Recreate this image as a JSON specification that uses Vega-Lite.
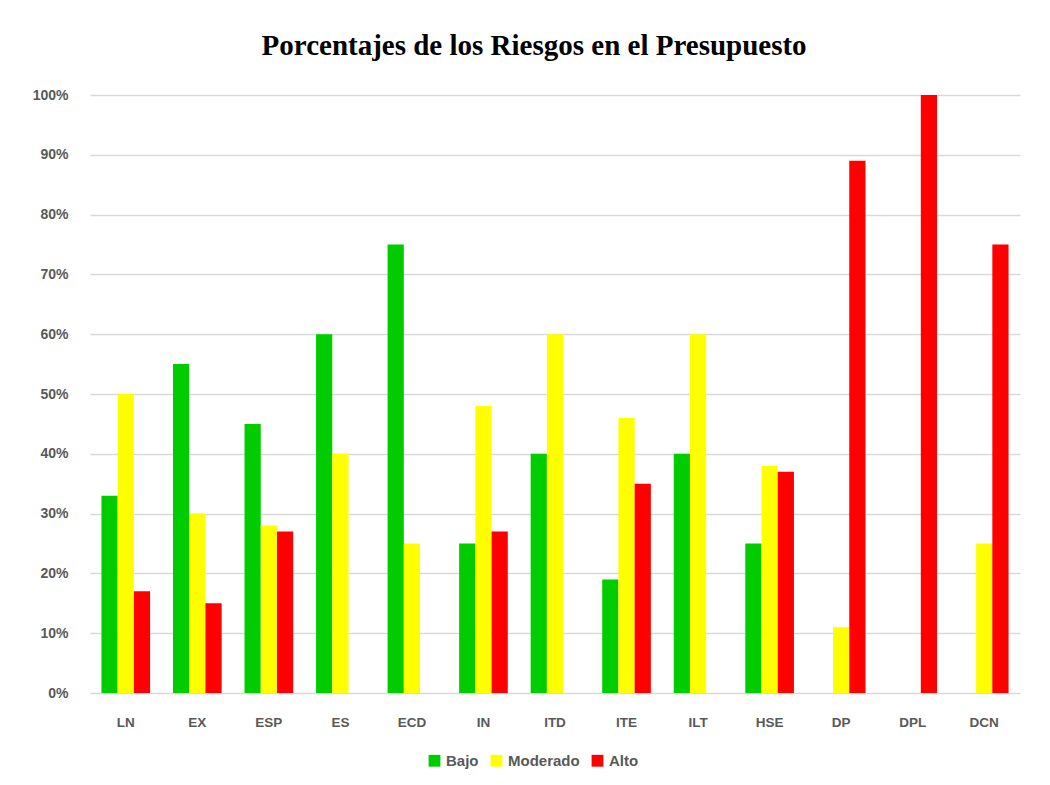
{
  "$schema": "https://vega.github.io/schema/vega-lite/v6.json",
  "autosize": {"type": "none"},
  "width": 930,
  "height": 598,
  "padding": {"left": 90, "top": 95, "right": 30, "bottom": 92},
  "background": "white",
  "title": {
    "text": "Porcentajes de los Riesgos en el Presupuesto",
    "font": "Liberation Serif",
    "fontSize": 29,
    "fontWeight": "bold",
    "color": "#000000",
    "anchor": "middle",
    "frame": "bounds",
    "offset": 27,
    "dx": 8
  },
  "data": {
    "values": [
      {"cat": "LN", "serie": "Bajo", "v": 0.33},
      {"cat": "LN", "serie": "Moderado", "v": 0.50},
      {"cat": "LN", "serie": "Alto", "v": 0.17},
      {"cat": "EX", "serie": "Bajo", "v": 0.55},
      {"cat": "EX", "serie": "Moderado", "v": 0.30},
      {"cat": "EX", "serie": "Alto", "v": 0.15},
      {"cat": "ESP", "serie": "Bajo", "v": 0.45},
      {"cat": "ESP", "serie": "Moderado", "v": 0.28},
      {"cat": "ESP", "serie": "Alto", "v": 0.27},
      {"cat": "ES", "serie": "Bajo", "v": 0.60},
      {"cat": "ES", "serie": "Moderado", "v": 0.40},
      {"cat": "ES", "serie": "Alto", "v": 0.0},
      {"cat": "ECD", "serie": "Bajo", "v": 0.75},
      {"cat": "ECD", "serie": "Moderado", "v": 0.25},
      {"cat": "ECD", "serie": "Alto", "v": 0.0},
      {"cat": "IN", "serie": "Bajo", "v": 0.25},
      {"cat": "IN", "serie": "Moderado", "v": 0.48},
      {"cat": "IN", "serie": "Alto", "v": 0.27},
      {"cat": "ITD", "serie": "Bajo", "v": 0.40},
      {"cat": "ITD", "serie": "Moderado", "v": 0.60},
      {"cat": "ITD", "serie": "Alto", "v": 0.0},
      {"cat": "ITE", "serie": "Bajo", "v": 0.19},
      {"cat": "ITE", "serie": "Moderado", "v": 0.46},
      {"cat": "ITE", "serie": "Alto", "v": 0.35},
      {"cat": "ILT", "serie": "Bajo", "v": 0.40},
      {"cat": "ILT", "serie": "Moderado", "v": 0.60},
      {"cat": "ILT", "serie": "Alto", "v": 0.0},
      {"cat": "HSE", "serie": "Bajo", "v": 0.25},
      {"cat": "HSE", "serie": "Moderado", "v": 0.38},
      {"cat": "HSE", "serie": "Alto", "v": 0.37},
      {"cat": "DP", "serie": "Bajo", "v": 0.0},
      {"cat": "DP", "serie": "Moderado", "v": 0.11},
      {"cat": "DP", "serie": "Alto", "v": 0.89},
      {"cat": "DPL", "serie": "Bajo", "v": 0.0},
      {"cat": "DPL", "serie": "Moderado", "v": 0.0},
      {"cat": "DPL", "serie": "Alto", "v": 1.0},
      {"cat": "DCN", "serie": "Bajo", "v": 0.0},
      {"cat": "DCN", "serie": "Moderado", "v": 0.25},
      {"cat": "DCN", "serie": "Alto", "v": 0.75}
    ]
  },
  "mark": {"type": "bar"},
  "encoding": {
    "x": {
      "field": "cat",
      "type": "nominal",
      "sort": null,
      "scale": {"paddingInner": 0.32, "paddingOuter": 0.16},
      "axis": {
        "title": null,
        "labelAngle": 0,
        "labelFont": "Liberation Sans",
        "labelFontSize": 13.5,
        "labelFontWeight": "bold",
        "labelColor": "#595959",
        "labelPadding": 22,
        "domain": false,
        "ticks": false
      }
    },
    "xOffset": {
      "field": "serie",
      "type": "nominal",
      "sort": ["Bajo", "Moderado", "Alto"]
    },
    "y": {
      "field": "v",
      "type": "quantitative",
      "scale": {"domain": [0, 1], "nice": false},
      "axis": {
        "title": null,
        "format": ".0%",
        "values": [0, 0.1, 0.2, 0.3, 0.4, 0.5, 0.6, 0.7, 0.8, 0.9, 1.0],
        "labelOverlap": false,
        "labelFont": "Liberation Sans",
        "labelFontSize": 14,
        "labelFontWeight": "bold",
        "labelColor": "#595959",
        "labelPadding": 22,
        "domain": false,
        "ticks": false,
        "grid": true,
        "gridColor": "#d9d9d9",
        "gridWidth": 1.5
      }
    },
    "color": {
      "field": "serie",
      "type": "nominal",
      "sort": ["Bajo", "Moderado", "Alto"],
      "scale": {"domain": ["Bajo", "Moderado", "Alto"], "range": ["#00cc00", "#ffff00", "#ff0000"]},
      "legend": {
        "title": null,
        "orient": "none",
        "legendX": 337,
        "legendY": 658,
        "direction": "horizontal",
        "symbolType": "square",
        "symbolSize": 140,
        "symbolStrokeWidth": 0,
        "labelFont": "Liberation Sans",
        "labelFontSize": 15,
        "labelFontWeight": "bold",
        "labelColor": "#595959",
        "labelOffset": 4,
        "columnPadding": 10
      }
    }
  },
  "config": {
    "view": {"stroke": null}
  }
}
